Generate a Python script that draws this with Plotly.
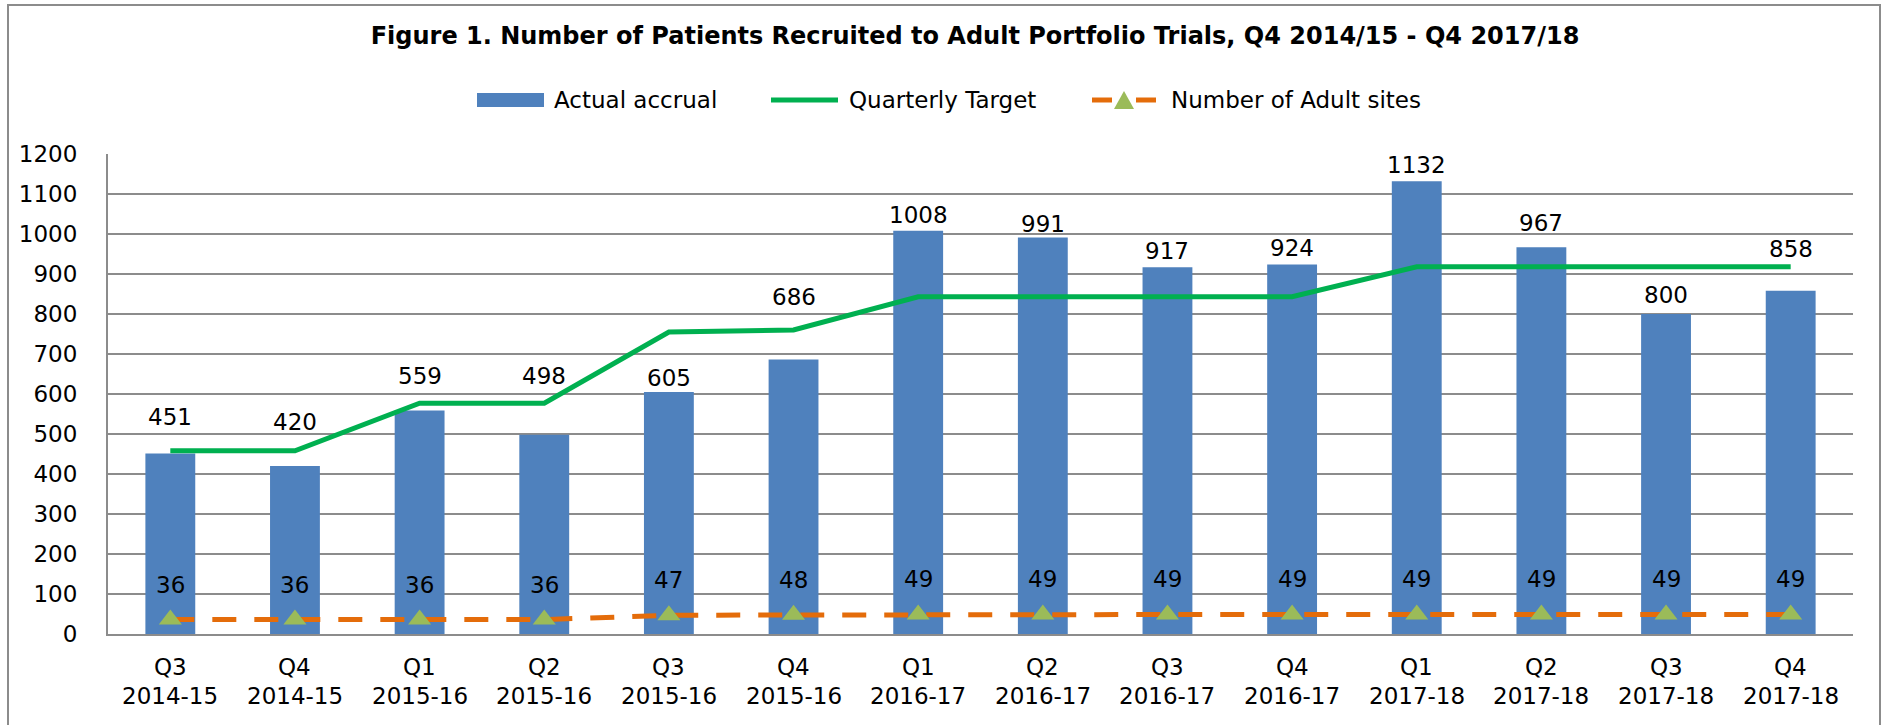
import plotly.graph_objects as go

quarters = ["Q3", "Q4", "Q1", "Q2", "Q3", "Q4", "Q1", "Q2", "Q3", "Q4", "Q1", "Q2", "Q3", "Q4"]
years = ["2014-15", "2014-15", "2015-16", "2015-16", "2015-16", "2015-16", "2016-17",
         "2016-17", "2016-17", "2016-17", "2017-18", "2017-18", "2017-18", "2017-18"]
categories = [q + " " + y for q, y in zip(quarters, years)]
actual_accrual = [451, 420, 559, 498, 605, 686, 1008, 991, 917, 924, 1132, 967, 800, 858]
quarterly_target = [458, 458, 577, 577, 755, 760, 843, 843, 843, 843, 918, 918, 918, 918]
adult_sites = [36, 36, 36, 36, 47, 48, 49, 49, 49, 49, 49, 49, 49, 49]
y_ticks = list(range(0, 1201, 100))
series_names = ["Actual accrual", "Quarterly Target", "Number of Adult sites"]

# style: extra pixel lift of some bar labels (placed clear of target line)
bar_label_extra_shift = [21, 28, 18, 43, -2, 47, 0, -2, 0, 0, 0, 8, 3, 26]

FONT = "DejaVu Sans, Liberation Sans, Arial, sans-serif"
FS = 23
BLUE, GREEN, ORANGE, TRI = "#4F81BD", "#00B050", "#E46C0A", "#9BBB59"
GRID = "#8C8C8C"

W, H = 1885, 725
L, R, T, B = 108, 32, 154, 91
PW, PH = W - L - R, H - T - B


def px(x):
    return (x - L) / PW


def py(y):
    return (H - B - y) / PH


fig = go.Figure()
fig.add_trace(go.Bar(
    x=categories, y=actual_accrual, name=series_names[0],
    marker=dict(color=BLUE, line=dict(width=0)),
))
fig.add_trace(go.Scatter(
    x=categories, y=quarterly_target, name=series_names[1],
    mode="lines", line=dict(color=GREEN, width=5),
))
fig.add_trace(go.Scatter(
    x=categories, y=adult_sites, name=series_names[2],
    mode="lines+markers",
    line=dict(color=ORANGE, width=5, dash="24px,18px"),
    marker=dict(symbol="triangle-up", size=20, color=TRI, line=dict(width=0)),
))

txt = dict(family=FONT, size=FS, color="#000000")
annotations = []
for c, v, s in zip(categories, actual_accrual, bar_label_extra_shift):
    annotations.append(dict(x=c, y=v, text=str(v), showarrow=False, xref="x", yref="y",
                            yanchor="middle", yshift=16 + s, font=txt))
for c, v in zip(categories, adult_sites):
    annotations.append(dict(x=c, y=v, text=str(v), showarrow=False, xref="x", yref="y",
                            yanchor="middle", yshift=35, font=txt))
# two-line category labels under the axis
for c, q, yr in zip(categories, quarters, years):
    annotations.append(dict(x=c, y=0, text=q, showarrow=False, xref="x", yref="y",
                            yanchor="middle", yshift=-33, font=txt))
    annotations.append(dict(x=c, y=0, text=yr, showarrow=False, xref="x", yref="y",
                            yanchor="middle", yshift=-62, font=txt))

# manual legend (full-pixel layout converted to paper coordinates)
LEG_Y = 100
legend_text_x = [552, 847, 1169]
for name, lx in zip(series_names, legend_text_x):
    annotations.append(dict(x=px(lx), y=py(LEG_Y), xref="paper", yref="paper",
                            text=name, showarrow=False, xanchor="left", yanchor="middle",
                            font=txt))

shapes = [
    dict(type="rect", xref="paper", yref="paper",
         x0=px(8), x1=px(1880), y0=py(740), y1=py(5),
         line=dict(color=GRID, width=2), fillcolor="rgba(0,0,0,0)", layer="below"),
    dict(type="rect", xref="paper", yref="paper",
         x0=px(477), x1=px(544), y0=py(LEG_Y + 7), y1=py(LEG_Y - 7),
         line=dict(width=0), fillcolor=BLUE),
    dict(type="line", xref="paper", yref="paper",
         x0=px(771), x1=px(838), y0=py(LEG_Y), y1=py(LEG_Y),
         line=dict(color=GREEN, width=5)),
    dict(type="line", xref="paper", yref="paper",
         x0=px(1092), x1=px(1112), y0=py(LEG_Y), y1=py(LEG_Y),
         line=dict(color=ORANGE, width=5)),
    dict(type="line", xref="paper", yref="paper",
         x0=px(1136), x1=px(1156), y0=py(LEG_Y), y1=py(LEG_Y),
         line=dict(color=ORANGE, width=5)),
    dict(type="path", xref="paper", yref="paper",
         path="M {} {} L {} {} L {} {} Z".format(px(1114), py(LEG_Y + 9), px(1134), py(LEG_Y + 9),
                                                 px(1124), py(LEG_Y - 9)),
         line=dict(width=0), fillcolor=TRI),
]

fig.update_layout(
    width=W, height=H,
    margin=dict(l=L, r=R, t=T, b=B, pad=0),
    paper_bgcolor="white", plot_bgcolor="white",
    font=txt,
    title=dict(text="<b>Figure 1. Number of Patients Recruited to Adult Portfolio Trials, Q4 2014/15 - Q4 2017/18</b>",
               x=975 / W, xanchor="center", y=1 - 36 / H, yanchor="middle",
               font=dict(family=FONT, size=24, color="#000000")),
    bargap=0.6,
    showlegend=False,
    xaxis=dict(range=[-0.5, len(categories) - 0.5], autorange=False,
               showgrid=False, showline=True, linecolor=GRID, linewidth=2,
               ticks="", showticklabels=False, fixedrange=True),
    yaxis=dict(range=[0, 1200], tickvals=y_ticks, showgrid=True, gridcolor=GRID,
               gridwidth=2, showline=True, linecolor=GRID, linewidth=2,
               zeroline=False, ticks="", tickfont=txt,
               ticklabelstandoff=24, fixedrange=True),
    annotations=annotations,
    shapes=shapes,
)

fig.write_html("out.html", config={"displayModeBar": False},
               post_script="document.body.style.margin='0px';document.body.style.overflow='hidden';")
